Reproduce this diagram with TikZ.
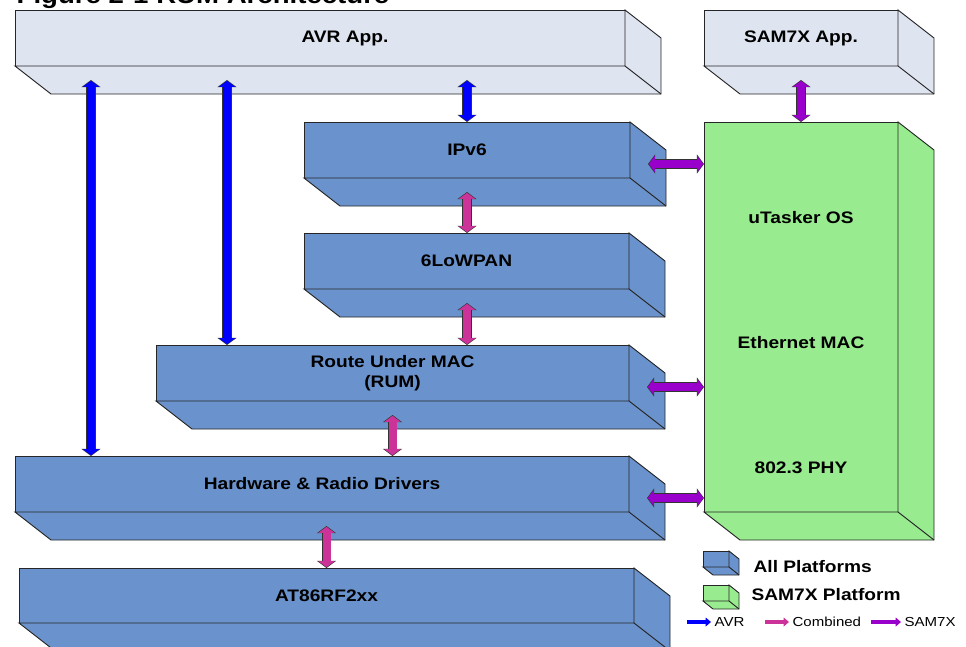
\documentclass[tikz,border=0pt]{standalone}
\usepackage{fontspec}
\setmainfont[FakeStretch=1.15]{Liberation Sans}
\usetikzlibrary{arrows.meta,fit,calc,positioning}

\definecolor{avrcol}{RGB}{0,0,255}
\definecolor{combcol}{RGB}{204,51,153}
\definecolor{samcol}{RGB}{153,0,204}
\definecolor{layerblue}{RGB}{106,146,204}
\definecolor{applight}{RGB}{222,228,240}
\definecolor{samgreen}{RGB}{153,235,143}

% front face as a node, side and bottom faces drawn next to it
\newcommand{\cuboid}[6][36,28]{%
  \node[face, fill=#4, fit={#2 #3}] (#5) {};
  \draw[face, fill=#4] (#5.south west) -- ++(#1) -- ([shift={(#1)}]#5.south east)
    -- ([shift={(#1)}]#5.north east) -- (#5.north east) -- (#5.south east) -- cycle;
  \draw[face] (#5.south east) -- ++(#1);
  \node[facetext] (#5-t) at (#5.center) {#6};
  \coordinate (#5-b) at ($(#5.south)!0.5!([shift={(#1)}]#5.south)$);
  \coordinate (#5-r) at ($(#5.east)!0.5!([shift={(#1)}]#5.east)$);
}

\begin{document}
\begin{tikzpicture}[x=0.75pt, y=-0.75pt]
    \tikzstyle{face} = [draw=black!85, line width=0.7pt, inner sep=0pt, outer sep=0pt]
    \tikzstyle{facetext} = [align=center, inner sep=1pt, font=\bfseries\fontsize{12.5}{15}\selectfont]
    \tikzstyle{barrow} = [line width=6pt, shorten <=0.6pt, shorten >=0.6pt,
                          {Triangle[width=12pt,length=4.5pt]}-{Triangle[width=12pt,length=4.5pt]},
                          preaction={draw=black!80, line width=7.4pt, shorten <=0pt, shorten >=0pt,
                          {Triangle[width=14pt,length=5.3pt]}-{Triangle[width=14pt,length=5.3pt]}}]
    \tikzstyle{keyarrow} = [line width=2.6pt, shorten >=1.5pt, -{Triangle[width=6.5pt,length=4pt]}]
    \tikzstyle{keytext} = [anchor=west, inner sep=1pt, font=\bfseries\fontsize{12.5}{15}\selectfont]
    \tikzstyle{keysmall} = [anchor=west, inner sep=1pt, font=\fontsize{9.8}{11}\selectfont]
    \useasboundingbox (0,0) rectangle (966,646);

    \node[anchor=base west, font=\bfseries\fontsize{18}{20}\selectfont] (title) at (12,3)
      {Figure 2-1 RUM Architecture};

    % layers
    \cuboid{(15,10)}{(625,66)}{applight}{avrapp}{}
    \node[facetext] (avrtext) at (345,38) {AVR App.};
    \cuboid{(704,10)}{(898,66)}{applight}{samapp}{SAM7X App.}
    \cuboid{(304,122)}{(630,178)}{layerblue}{ipv6}{IPv6}
    \cuboid{(304,233)}{(629,289)}{layerblue}{lowpan}{6LoWPAN}
    \cuboid{(156,345)}{(629,401)}{layerblue}{rum}{Route Under MAC\\(RUM)}
    \cuboid{(15,456)}{(629,512)}{layerblue}{hw}{Hardware \& Radio Drivers}
    \cuboid{(19,568)}{(634,623)}{layerblue}{at86}{AT86RF2xx}
    \cuboid{(704,122)}{(898,512)}{samgreen}{samx}{}
    \node[facetext] (ostext) at (801,218) {uTasker OS};
    \node[facetext] (mactext) at (801,343) {Ethernet MAC};
    \node[facetext] (phytext) at (801,468) {802.3 PHY};

    % AVR
    \draw[barrow, avrcol] (avrapp-b -| 91,0) -- (hw.north -| 91,0);
    \draw[barrow, avrcol] (avrapp-b -| 227,0) -- (rum.north -| 227,0);
    \draw[barrow, avrcol] (avrapp-b -| ipv6.north) -- (ipv6.north);
    % combined
    \draw[barrow, combcol] (ipv6-b -| ipv6.north) -- (lowpan.north -| ipv6.north);
    \draw[barrow, combcol] (lowpan-b -| ipv6.north) -- (rum.north -| ipv6.north);
    \draw[barrow, combcol] (rum-b -| rum.north) -- (hw.north -| rum.north);
    \draw[barrow, combcol] (hw-b -| at86.north) -- (at86.north);
    % SAM7X
    \draw[barrow, samcol] (samapp-b -| samx.north) -- (samx.north);
    \draw[barrow, samcol] (ipv6-r) -- (samx.west |- ipv6-r);
    \draw[barrow, samcol] (rum-r) -- (samx.west |- rum-r);
    \draw[barrow, samcol] (hw-r) -- (samx.west |- hw-r);

    % legend
    \cuboid[10,8]{(703,551)}{(729,567)}{layerblue}{keyall}{}
    \cuboid[10,8]{(703,585)}{(729,601)}{samgreen}{keysam}{}
    \node[keytext] (allplat) at (752,567) {All Platforms};
    \node[keytext] (samplat) at (750,595) {SAM7X Platform};
    \coordinate (avrtail) at (687,622);
    \coordinate (combtail) at (765,622);
    \coordinate (samtail) at (871,622);
    \node[keysmall] (avrkey) at (713,622) {AVR};
    \node[keysmall] (combkey) at (791,622) {Combined};
    \node[keysmall] (samkey) at (903,622) {SAM7X};
    \draw[keyarrow, avrcol] (avrtail) -- (avrkey.west);
    \draw[keyarrow, combcol] (combtail) -- (combkey.west);
    \draw[keyarrow, samcol] (samtail) -- (samkey.west);
\end{tikzpicture}
\end{document}
